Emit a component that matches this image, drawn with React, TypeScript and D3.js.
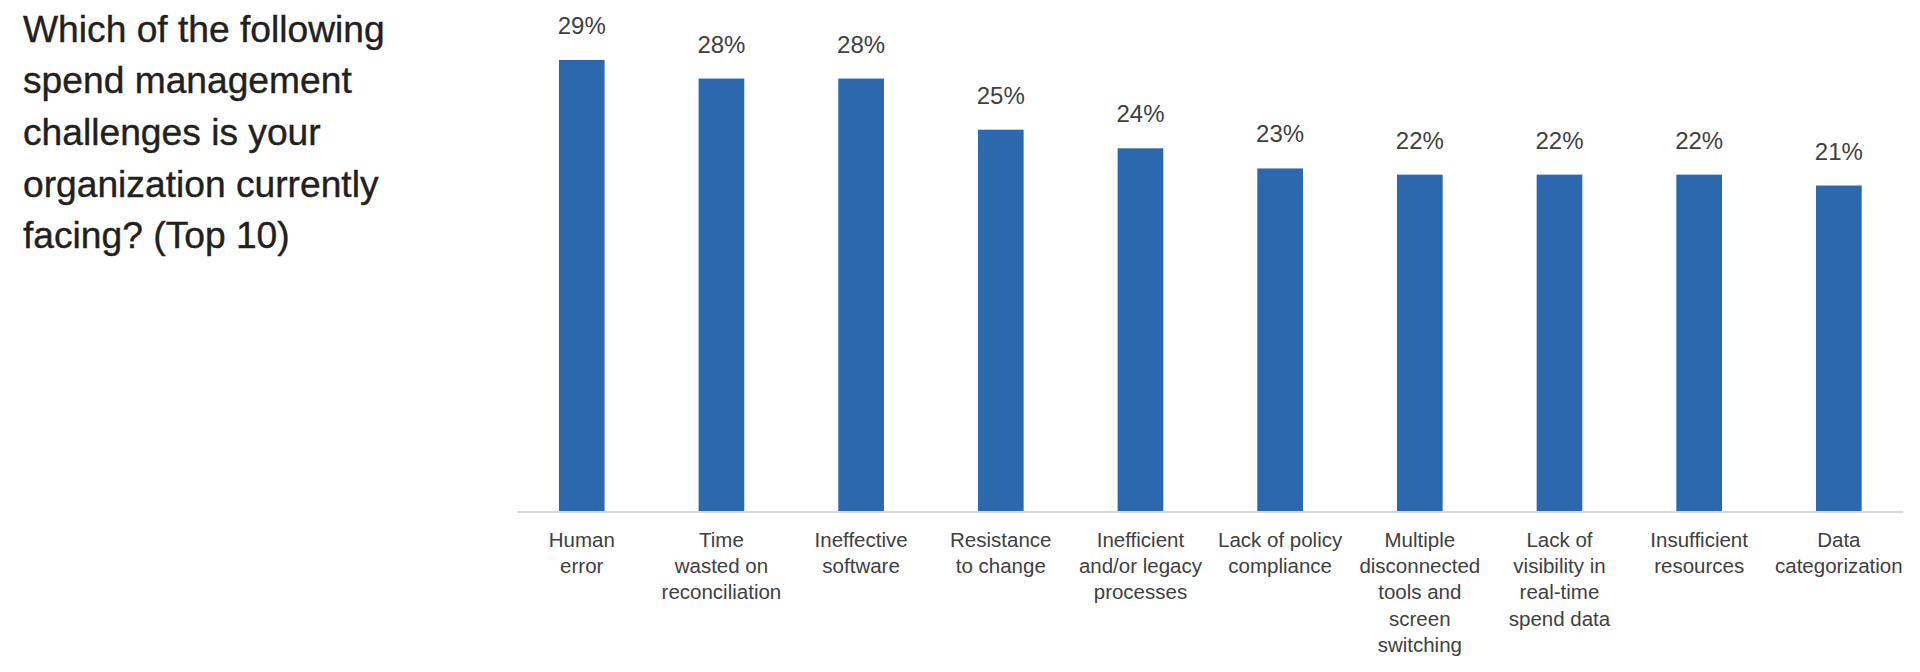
import React from "react";
import * as d3 from "d3";

const titleLines = [
  "Which of the following",
  "spend management",
  "challenges is your",
  "organization currently",
  "facing? (Top 10)",
];

const categories = [
  ["Human", "error"],
  ["Time", "wasted on", "reconciliation"],
  ["Ineffective", "software"],
  ["Resistance", "to change"],
  ["Inefficient", "and/or legacy", "processes"],
  ["Lack of policy", "compliance"],
  ["Multiple", "disconnected", "tools and", "screen", "switching"],
  ["Lack of", "visibility in", "real-time", "spend data"],
  ["Insufficient", "resources"],
  ["Data", "categorization"],
];

// bar heights (percent)
const values = [29.1, 27.9, 27.9, 24.6, 23.4, 22.1, 21.7, 21.7, 21.7, 21.0];
// data labels as printed
const valueLabels = ["29%", "28%", "28%", "25%", "24%", "23%", "22%", "22%", "22%", "21%"];

const yTicks = [0, 30];

export default function App() {
  const W = 1920;
  const H = 672;
  const keys = categories.map((c) => c.join(" "));
  const x = d3
    .scaleBand<string>()
    .domain(keys)
    .range([517.3, 1903.3])
    .paddingInner(0.673)
    .paddingOuter(0.298);
  const y = d3.scaleLinear().domain([yTicks[0], yTicks[1]]).range([511, 46]);
  const font = "'Liberation Sans', Arial, sans-serif";

  return (
    <svg
      width={W}
      height={H}
      style={{ position: "absolute", left: 0, top: 0, background: "#fff" }}
    >
      <rect x={0} y={0} width={W} height={H} fill="#ffffff" />
      {titleLines.map((t, i) => (
        <text
          key={i}
          x={23}
          y={41.7 + i * 51.65}
          fontFamily={font}
          fontSize={37.2}
          fill="#231f20"
          stroke="#231f20"
          strokeWidth={0.4}
        >
          {t}
        </text>
      ))}
      {values.map((v, i) => {
        const k = keys[i];
        const bx = x(k) as number;
        return (
          <g key={k}>
            <rect
              x={bx}
              y={y(v)}
              width={x.bandwidth()}
              height={y(0) - y(v)}
              fill="#2c68ad"
            />
            <text
              x={bx + x.bandwidth() / 2}
              y={y(v) - 26}
              textAnchor="middle"
              fontFamily={font}
              fontSize={24}
              fill="#404040"
            >
              {valueLabels[i]}
            </text>
          </g>
        );
      })}
      <line
        x1={x.range()[0]}
        x2={x.range()[1]}
        y1={y(0) + 1}
        y2={y(0) + 1}
        stroke="#d9d9d9"
        strokeWidth={2}
      />
      {categories.map((lines, i) => {
        const k = keys[i];
        const cx = (x(k) as number) + x.bandwidth() / 2;
        return (
          <text
            key={k}
            textAnchor="middle"
            fontFamily={font}
            fontSize={20.5}
            fill="#404040"
          >
            {lines.map((l, j) => (
              <tspan key={j} x={cx} y={546.7 + j * 26.3}>
                {l}
              </tspan>
            ))}
          </text>
        );
      })}
    </svg>
  );
}
